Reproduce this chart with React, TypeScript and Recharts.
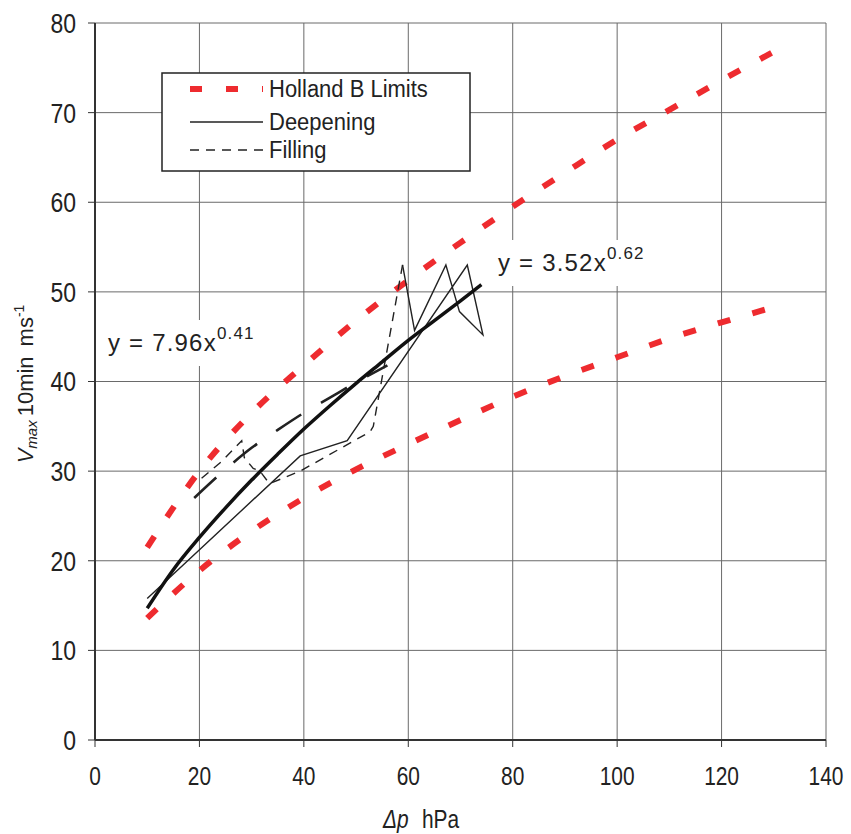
import React from 'react';
import { ComposedChart, Line, XAxis, YAxis, CartesianGrid } from 'recharts';

// Holland B limits (upper / lower envelope)
const hollandX = [10, 20, 30, 40, 50, 60, 70, 80, 90, 100, 110, 120, 130];
const hollandUpper = [21.5, 30, 36.5, 41.8, 46.8, 51.3, 55.5, 59.5, 63.3, 67, 70.3, 73.6, 76.8];
const hollandLower = [13.6, 18.9, 23.3, 27, 30.2, 33, 35.7, 38.3, 40.6, 42.7, 44.8, 46.6, 48.3];

// deepening track (in time order)
const deepX = [10, 39.3, 48.3, 71.3, 74.3, 69.8, 67.2, 61.2, 58.9];
const deepY = [15.8, 31.7, 33.4, 53, 45.2, 47.8, 53, 45.7, 53];

// filling track (in time order)
const fillX = [58.9, 53.3, 52.7, 39.3, 33.4, 31.6, 30.3, 28.6, 28.1, 24.3, 19.8];
const fillY = [53, 35, 34.4, 30, 28.6, 30, 30.3, 31.5, 33.4, 31.1, 28.9];

// fitted curves
const fitDeepX = [10, 15, 20, 25, 30, 35, 40, 45, 50, 55, 60, 65, 70, 74];
const fitDeepY = [14.7, 19.0, 22.6, 25.9, 29.0, 31.9, 34.7, 37.3, 39.8, 42.2, 44.6, 46.8, 49.0, 50.8];
const fitFillX = [19, 25, 30, 35, 40, 45, 50, 56];
const fitFillY = [27.0, 30.2, 32.6, 34.6, 36.5, 38.2, 39.9, 41.8];

const xTicks = [0, 20, 40, 60, 80, 100, 120, 140];
const yTicks = [0, 10, 20, 30, 40, 50, 60, 70, 80];

const toPoints = (xs: number[], ys: number[]) => xs.map((x, i) => ({ x, y: ys[i] }));

const FONT = '"Liberation Sans", Arial, sans-serif';
const RED = '#ee2b2f';
const INK = '#222';

// the original's type is a bit taller than wide, so stretch glyphs vertically
const XTick = ({ x, y, payload }: any) => (
  <g transform={`translate(${x},${y})`}>
    <text transform="scale(0.95,1.2)" textAnchor="middle" dy="0.71em" fontSize={22} fill={INK} fontFamily={FONT}>
      {payload.value}
    </text>
  </g>
);

const YTick = ({ x, y, payload }: any) => (
  <g transform={`translate(${x},${y})`}>
    <text transform="scale(1,1.2)" textAnchor="end" dy="0.36em" fontSize={23} fill={INK} fontFamily={FONT}>
      {payload.value}
    </text>
  </g>
);

const legendText = (label: string, y: number) => (
  <g transform={`translate(269,${y})`}>
    <text transform="scale(1,1.12)" fontSize={22} fill={INK}>{label}</text>
  </g>
);

export default function App() {
  return (
    <div style={{ position: 'absolute', left: 0, top: 0, width: 851, height: 834, background: '#fff' }}>
      <ComposedChart width={851} height={834} margin={{ top: 23, right: 25, bottom: 0, left: 0 }}>
        <CartesianGrid stroke="#6a6a6a" strokeWidth={1} />
        <XAxis
          type="number"
          dataKey="x"
          domain={[0, 140]}
          ticks={xTicks}
          height={94}
          tickSize={7}
          tickMargin={19}
          axisLine={{ stroke: '#333', strokeWidth: 2 }}
          tickLine={{ stroke: '#333' }}
          tick={<XTick />}
          label={{
            content: () => (
              <g transform="translate(383,828)">
                <text transform="scale(0.95,1.15)" fontSize={22} fill={INK} fontFamily={FONT}>
                  <tspan fontStyle="italic">Δp</tspan>
                  <tspan dx={14}>hPa</tspan>
                </text>
              </g>
            ),
          }}
        />
        <YAxis
          type="number"
          dataKey="y"
          domain={[0, 80]}
          ticks={yTicks}
          width={95}
          tickSize={7}
          tickMargin={12}
          axisLine={{ stroke: '#333', strokeWidth: 2 }}
          tickLine={{ stroke: '#333' }}
          tick={<YTick />}
          label={{
            content: () => (
              <text transform="translate(33,384) rotate(-90)" textAnchor="middle" fontSize={22} fill={INK} fontFamily={FONT}>
                <tspan fontStyle="italic">V</tspan>
                <tspan fontStyle="italic" fontSize={15} dy={4}>max</tspan>
                <tspan dy={-4} dx={4}>10min</tspan>
                <tspan dx={10}>ms</tspan>
                <tspan fontSize={14} dy={-9}>-1</tspan>
              </text>
            ),
          }}
        />
        <Line type="monotone" data={toPoints(hollandX, hollandUpper)} dataKey="y" stroke={RED} strokeWidth={6} strokeDasharray="13 23" dot={false} isAnimationActive={false} />
        <Line type="monotone" data={toPoints(hollandX, hollandLower)} dataKey="y" stroke={RED} strokeWidth={6} strokeDasharray="13 23" dot={false} isAnimationActive={false} />
        <Line data={toPoints(fillX, fillY)} dataKey="y" stroke={INK} strokeWidth={1.4} strokeDasharray="9 7" dot={false} isAnimationActive={false} />
        <Line data={toPoints(deepX, deepY)} dataKey="y" stroke={INK} strokeWidth={1.4} dot={false} isAnimationActive={false} />
        <Line type="monotone" data={toPoints(fitFillX, fitFillY)} dataKey="y" stroke={INK} strokeWidth={2.6} strokeDasharray="30 23" dot={false} isAnimationActive={false} />
        <Line type="monotone" data={toPoints(fitDeepX, fitDeepY)} dataKey="y" stroke="#111" strokeWidth={3.5} dot={false} isAnimationActive={false} />
      </ComposedChart>

      {/* legend + fit equations */}
      <svg width={851} height={834} style={{ position: 'absolute', left: 0, top: 0, pointerEvents: 'none' }} fontFamily={FONT}>
        <rect x={162} y={73} width={308} height={98} fill="#fff" stroke={INK} strokeWidth={1.5} />
        <line x1={190} y1={89} x2={263} y2={89} stroke={RED} strokeWidth={6} strokeDasharray="12 24" />
        {legendText('Holland B Limits', 97)}
        <line x1={190} y1={122} x2={263} y2={122} stroke={INK} strokeWidth={1.4} />
        {legendText('Deepening', 130)}
        <line x1={190} y1={150} x2={263} y2={150} stroke={INK} strokeWidth={1.4} strokeDasharray="9 7" />
        {legendText('Filling', 158)}

        <rect x={102} y={320} width={156} height={46} fill="#fff" />
        <text x={108} y={351} fontSize={24} letterSpacing={1.2} fill={INK}>
          y = 7.96x<tspan fontSize={17} dy={-12}>0.41</tspan>
        </text>
        <rect x={492} y={240} width={156} height={46} fill="#fff" />
        <text x={498} y={271} fontSize={24} letterSpacing={1.2} fill={INK}>
          y = 3.52x<tspan fontSize={17} dy={-12}>0.62</tspan>
        </text>
      </svg>
    </div>
  );
}
